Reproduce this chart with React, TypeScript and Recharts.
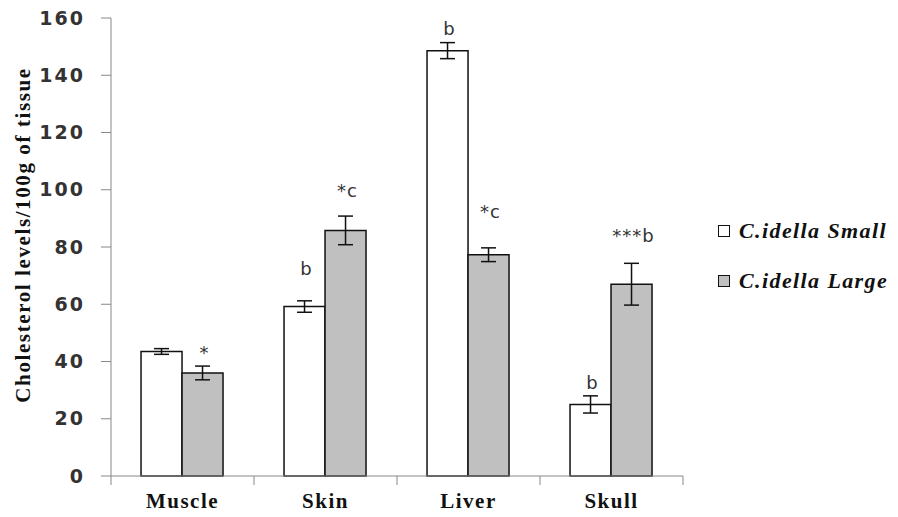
import React from "react";
import { Bar, BarChart, ErrorBar, LabelList, XAxis, YAxis } from "recharts";

const tissues = ["Muscle", "Skin", "Liver", "Skull"];
const smallVals = [43.5, 59.2, 148.6, 25];
const smallErrs = [1, 2, 2.8, 3];
const largeVals = [36, 85.8, 77.3, 67];
const largeErrs = [2.4, 5, 2.4, 7.3];
const smallNotes = ["", "b", "b", "b"];
const largeNotes = ["*", "*c", "*c", "***b"];
const yTicks = [0, 20, 40, 60, 80, 100, 120, 140, 160];
const seriesNames = ["C.idella Small", "C.idella Large"];

const data = tissues.map((tissue, i) => ({
  tissue,
  small: smallVals[i],
  smallErr: smallErrs[i],
  smallNote: smallNotes[i],
  large: largeVals[i],
  largeErr: largeErrs[i],
  largeNote: largeNotes[i],
}));

// gap (px) between the error bar cap and the note baseline
const smallLift = [0, 26, 8, 7];
const largeLift = [7, 19, 30, 21];

const serif = "'Liberation Serif', 'Times New Roman', serif";
const sans = "'DejaVu Sans', 'Liberation Sans', sans-serif";

function makeNote(errs: number[], vals: number[], lift: number[]) {
  return (props: any) => {
    const { x, y, width, height, value, index } = props;
    if (!value) return null;
    const pxPerUnit = height / vals[index];
    const top = y - errs[index] * pxPerUnit - lift[index];
    return (
      <text x={x + width / 2 + 2} y={top} textAnchor="middle" fontFamily={sans} fontSize={18} fill="#333" letterSpacing={1}>
        {value}
      </text>
    );
  };
}

function TissueTick(props: any) {
  const { x, y, payload, index } = props;
  const half = payload.offset ?? 71.5;
  return (
    <g>
      <line x1={x - half} x2={x - half} y1={y} y2={y + 9} stroke="#888" />
      {index === tissues.length - 1 && <line x1={x + half} x2={x + half} y1={y} y2={y + 9} stroke="#888" />}
      <text x={x} y={y + 32} textAnchor="middle" fontFamily={serif} fontWeight="bold" fontSize={21} fill="#111" letterSpacing={1.5}>
        {payload.value}
      </text>
    </g>
  );
}

function YTitle(props: any) {
  const { viewBox } = props;
  const cx = 23;
  const cy = viewBox.y + viewBox.height / 2 - 12;
  return (
    <text x={cx} y={cy} transform={`rotate(-90 ${cx} ${cy})`} textAnchor="middle" dominantBaseline="central" fontFamily={serif} fontWeight="bold" fontSize={21} fill="#111" letterSpacing={1.6}>
      Cholesterol levels/100g of tissue
    </text>
  );
}

function LegendBox() {
  const fills = ["#ffffff", "#c0c0c0"];
  return (
    <div style={{ position: "absolute", left: 718, top: 206, width: 180 }}>
      {seriesNames.map((name, i) => (
        <div key={name} style={{ display: "flex", alignItems: "center", height: 50 }}>
          <span style={{ width: 10, height: 10, border: "1.5px solid #111", background: fills[i], marginRight: 9 }} />
          <span style={{ fontFamily: serif, fontWeight: "bold", fontStyle: "italic", fontSize: 22, letterSpacing: 1.4, color: "#111", whiteSpace: "nowrap" }}>{name}</span>
        </div>
      ))}
    </div>
  );
}

export default function App() {
  return (
    <div style={{ position: "absolute", left: 0, top: 0, width: 898, height: 517, background: "#fff" }}>
      <BarChart width={898} height={517} data={data} margin={{ top: 18, right: 215, bottom: 0, left: 0 }} barGap={0} barCategoryGap="21%">
        <XAxis dataKey="tissue" height={41} tickLine={false} tickSize={0} tickMargin={0} axisLine={{ stroke: "#888" }} tick={<TissueTick />} interval={0} />
        <YAxis
          width={111}
          domain={[0, 160]}
          ticks={yTicks}
          tickSize={10}
          tickMargin={16}
          axisLine={{ stroke: "#888" }}
          tickLine={{ stroke: "#888" }}
          tick={{ fontFamily: sans, fontWeight: "bold", fontSize: 19, fill: "#333", letterSpacing: 2 }}
          label={{ content: <YTitle /> }}
        />
        <Bar dataKey="small" name={seriesNames[0]} fill="#ffffff" stroke="#111" strokeWidth={1.5} isAnimationActive={false}>
          <ErrorBar dataKey="smallErr" width={7.5} stroke="#111" strokeWidth={1.5} />
          <LabelList dataKey="smallNote" content={makeNote(smallErrs, smallVals, smallLift)} />
        </Bar>
        <Bar dataKey="large" name={seriesNames[1]} fill="#c0c0c0" stroke="#111" strokeWidth={1.5} isAnimationActive={false}>
          <ErrorBar dataKey="largeErr" width={7.5} stroke="#111" strokeWidth={1.5} />
          <LabelList dataKey="largeNote" content={makeNote(largeErrs, largeVals, largeLift)} />
        </Bar>
      </BarChart>
      <LegendBox />
    </div>
  );
}
